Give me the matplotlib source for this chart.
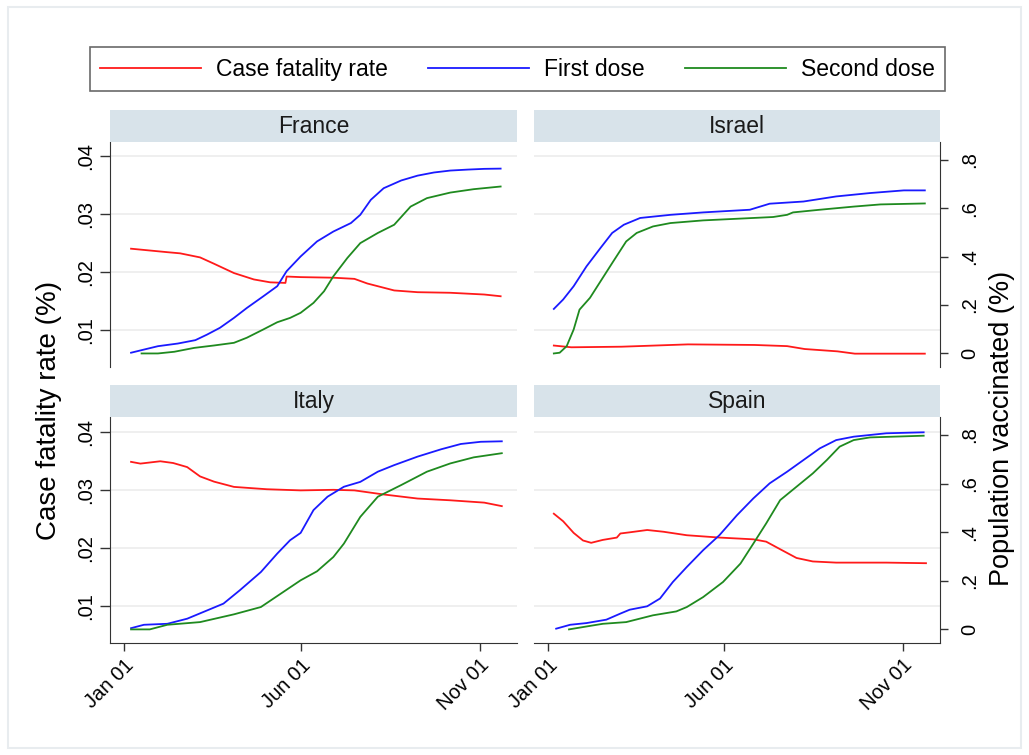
import matplotlib
matplotlib.use("Agg")
import matplotlib.pyplot as plt
import matplotlib.dates as mdates
from matplotlib.lines import Line2D
from matplotlib.patches import Rectangle
import numpy as np

plt.rcParams['font.family'] = ['Liberation Sans', 'DejaVu Sans']

# days since 1 Jan 2021 and values
fr_cfr_day = [6, 37, 48, 65, 77, 94, 111, 125, 138, 139, 151, 179, 197, 208, 231, 251, 279, 308, 322]
fr_cfr = [0.0241, 0.0235, 0.0233, 0.0226, 0.0215, 0.0199, 0.0188, 0.0183, 0.0182, 0.0193, 0.0192,
          0.0191, 0.0189, 0.0181, 0.0169, 0.0166, 0.0165, 0.0162, 0.0159]
fr_d1_day = [6, 17, 29, 46, 61, 71, 82, 94, 105, 119, 131, 139, 151, 165, 179, 194, 202, 211, 222,
             237, 251, 265, 279, 294, 308, 322]
fr_d1 = [0.003, 0.016, 0.030, 0.041, 0.055, 0.078, 0.106, 0.147, 0.188, 0.236, 0.278, 0.340, 0.401,
         0.463, 0.504, 0.539, 0.573, 0.635, 0.683, 0.715, 0.735, 0.748, 0.756, 0.760, 0.763, 0.764]
fr_d2_day = [15, 29, 43, 60, 77, 94, 105, 119, 131, 142, 151, 162, 171, 179, 191, 202, 217, 231,
             245, 259, 279, 299, 322]
fr_d2 = [0.0, 0.0, 0.007, 0.023, 0.033, 0.044, 0.065, 0.099, 0.129, 0.147, 0.168, 0.209, 0.257,
         0.319, 0.395, 0.456, 0.498, 0.532, 0.607, 0.642, 0.665, 0.679, 0.690]

il_cfr_day = [5, 20, 63, 120, 177, 205, 220, 248, 263, 291, 323]
il_cfr = [0.0074, 0.0071, 0.0072, 0.0076, 0.0075, 0.0073, 0.0068, 0.0064, 0.0060, 0.0060, 0.0060]
il_d1_day = [5, 13, 22, 33, 45, 55, 65, 79, 105, 133, 173, 190, 219, 247, 276, 305, 323]
il_d1 = [0.184, 0.223, 0.278, 0.360, 0.436, 0.498, 0.532, 0.560, 0.573, 0.583, 0.594, 0.619,
         0.628, 0.649, 0.663, 0.674, 0.674]
il_d2_day = [5, 10, 16, 22, 27, 36, 45, 56, 67, 76, 90, 105, 133, 176, 193, 205, 210, 233, 262, 285, 323]
il_d2 = [0.0, 0.003, 0.030, 0.099, 0.181, 0.230, 0.298, 0.381, 0.463, 0.498, 0.525, 0.539, 0.550,
         0.560, 0.564, 0.573, 0.583, 0.594, 0.607, 0.616, 0.620]

it_cfr_day = [6, 14, 31, 42, 54, 65, 77, 94, 122, 151, 179, 197, 222, 251, 279, 308, 323]
it_cfr = [0.0348, 0.0345, 0.0349, 0.0346, 0.0339, 0.0323, 0.0314, 0.0305, 0.0301, 0.0299, 0.0300,
          0.0299, 0.0292, 0.0285, 0.0282, 0.0278, 0.0272]
it_d1_day = [6, 17, 37, 54, 71, 85, 99, 117, 131, 142, 151, 162, 174, 188, 202, 217, 231, 251,
             271, 288, 305, 323]
it_d1 = [0.005, 0.019, 0.023, 0.044, 0.078, 0.106, 0.161, 0.236, 0.312, 0.367, 0.397, 0.491, 0.546,
         0.587, 0.607, 0.649, 0.676, 0.711, 0.741, 0.763, 0.772, 0.774]
it_d2_day = [6, 22, 37, 65, 94, 117, 134, 151, 165, 179, 188, 202, 217, 237, 259, 279, 299, 323]
it_d2 = [0.0, 0.0, 0.019, 0.030, 0.062, 0.092, 0.147, 0.202, 0.239, 0.298, 0.353, 0.463, 0.546,
         0.594, 0.649, 0.683, 0.708, 0.725]

es_cfr_day = [5, 13, 22, 30, 37, 47, 59, 62, 70, 85, 99, 119, 147, 176, 187, 199, 213, 227, 247, 290, 324]
es_cfr = [0.0259, 0.0246, 0.0226, 0.0213, 0.0209, 0.0214, 0.0218, 0.0225, 0.0227, 0.0231, 0.0228,
          0.0222, 0.0218, 0.0215, 0.0211, 0.0198, 0.0183, 0.0177, 0.0175, 0.0175, 0.0174]
es_d1_day = [7, 19, 33, 50, 62, 70, 85, 96, 107, 119, 133, 147, 162, 176, 190, 205, 219, 233, 247,
             262, 290, 322]
es_d1 = [0.003, 0.019, 0.026, 0.040, 0.065, 0.081, 0.095, 0.127, 0.195, 0.257, 0.326, 0.388, 0.470,
         0.539, 0.601, 0.649, 0.697, 0.745, 0.779, 0.793, 0.807, 0.811]
es_d2_day = [18, 33, 47, 67, 90, 110, 119, 133, 150, 165, 176, 187, 199, 213, 227, 239, 250, 262, 276, 322]
es_d2 = [0.0, 0.012, 0.023, 0.030, 0.058, 0.074, 0.092, 0.133, 0.195, 0.271, 0.353, 0.436, 0.532,
         0.587, 0.642, 0.697, 0.752, 0.779, 0.790, 0.797]

countries = ["France", "Israel", "Italy", "Spain"]
cfr_days = [fr_cfr_day, il_cfr_day, it_cfr_day, es_cfr_day]
cfr_vals = [fr_cfr, il_cfr, it_cfr, es_cfr]
d1_days = [fr_d1_day, il_d1_day, it_d1_day, es_d1_day]
d1_vals = [fr_d1, il_d1, it_d1, es_d1]
d2_days = [fr_d2_day, il_d2_day, it_d2_day, es_d2_day]
d2_vals = [fr_d2, il_d2, it_d2, es_d2]

legend_labels = ["Case fatality rate", "First dose", "Second dose"]
cfr_ticks = [0.01, 0.02, 0.03, 0.04]
cfr_ticklabels = [".01", ".02", ".03", ".04"]
vac_ticks = [0, 0.2, 0.4, 0.6, 0.8]
vac_ticklabels = ["0", ".2", ".4", ".6", ".8"]
date_ticks = ["2021-01-01", "2021-06-01", "2021-11-01"]

RED, BLUE, GREEN = "#ff1a1a", "#1a1aff", "#1f8a1f"
STRIP = "#d8e3ea"
base = mdates.datestr2num("2021-01-01")

W, H = 1029, 755
fig = plt.figure(figsize=(W / 100, H / 100), dpi=100)
fig.patches.append(Rectangle((8 / W, 7 / H), 1 - 16 / W, 1 - 14 / H, transform=fig.transFigure,
                             fill=False, edgecolor="#e8ecef", lw=1.5))

# panel boxes in pixels: (left, top, right, bottom)
boxes = [(110, 142, 517, 367), (534, 142, 940, 367), (110, 417, 517, 643), (534, 417, 940, 643)]

for i, name in enumerate(countries):
    l, t, r, b = boxes[i]
    ax = fig.add_axes([l / W, 1 - b / H, (r - l) / W, (b - t) / H])
    ax2 = ax.twinx()
    strip = fig.add_axes([l / W, 1 - (t) / H, (r - l) / W, 32 / H])
    strip.set_facecolor(STRIP)
    strip.set_xticks([]); strip.set_yticks([])
    for s in strip.spines.values():
        s.set_visible(False)
    strip.text(0.5, 0.47, name, ha="center", va="center", fontsize=16.5, color="#1a1a1a",
               transform=strip.transAxes)

    ax.plot(base + np.array(cfr_days[i]), cfr_vals[i], color=RED, lw=1.3)
    ax2.plot(base + np.array(d1_days[i]), d1_vals[i], color=BLUE, lw=1.3)
    ax2.plot(base + np.array(d2_days[i]), d2_vals[i], color=GREEN, lw=1.3)

    ax.set_xlim(base - 12, base + 336)
    ax.set_ylim(0.0037, 0.0425)
    ax2.set_ylim(-0.056, 0.874)
    ax.set_yticks(cfr_ticks)
    ax.grid(axis="y", color="#ececec", lw=1.2)
    ax.set_axisbelow(True)
    ax2.set_yticks(vac_ticks)

    for a in (ax, ax2):
        for s in a.spines.values():
            s.set_visible(False)
        a.spines["bottom"].set_color("#333333")
        a.spines["left"].set_color("#333333")
        a.spines["right"].set_color("#333333")

    left_col = i % 2 == 0
    bottom_row = i >= 2
    if left_col:
        ax.spines["left"].set_visible(True)
        ax.set_yticklabels(cfr_ticklabels, rotation=90, va="center", fontsize=14.5)
        ax.tick_params(axis="y", length=7.5, width=1, color="#333333", pad=3)
        ax2.set_yticks([])
    else:
        ax.set_yticks(cfr_ticks)
        ax.tick_params(axis="y", left=False, labelleft=False)
        ax2.spines["right"].set_visible(True)
        ax2.set_yticklabels(vac_ticklabels, rotation=90, va="center", fontsize=14.5)
        ax2.tick_params(axis="y", length=5.5, width=1, color="#333333", pad=9)

    if bottom_row:
        ax.spines["bottom"].set_visible(True)
        ax.set_xticks([mdates.datestr2num(d) for d in date_ticks])
        ax.xaxis.set_major_formatter(mdates.DateFormatter("%b %d"))
        ax.tick_params(axis="x", length=6, width=1, color="#333333", pad=3, labelsize=14.5)
        for lab in ax.get_xticklabels():
            lab.set_rotation(45)
            lab.set_ha("right")
            lab.set_rotation_mode("anchor")
    else:
        ax.tick_params(axis="x", bottom=False, labelbottom=False)

fig.text(49 / W, 1 - 410 / H, "Case fatality rate (%)", rotation=90, ha="center", va="center",
         fontsize=20)
fig.text(1002 / W, 1 - 428 / H, "Population vaccinated (%)", rotation=90, ha="center",
         va="center", fontsize=19.5)

handles = [Line2D([], [], color=c, lw=1.3) for c in (RED, BLUE, GREEN)]
leg = fig.legend(handles, legend_labels, loc="lower left", ncol=3, mode="expand",
                 bbox_to_anchor=(90 / W, 1 - 91 / H, 855 / W, 48 / H), borderaxespad=0,
                 fontsize=16.5, handlelength=4.4, handletextpad=0.65, fancybox=False,
                 edgecolor="#444444", borderpad=0.45)
leg.get_frame().set_linewidth(1.2)

fig.savefig("out.png", dpi=100, facecolor="white")
